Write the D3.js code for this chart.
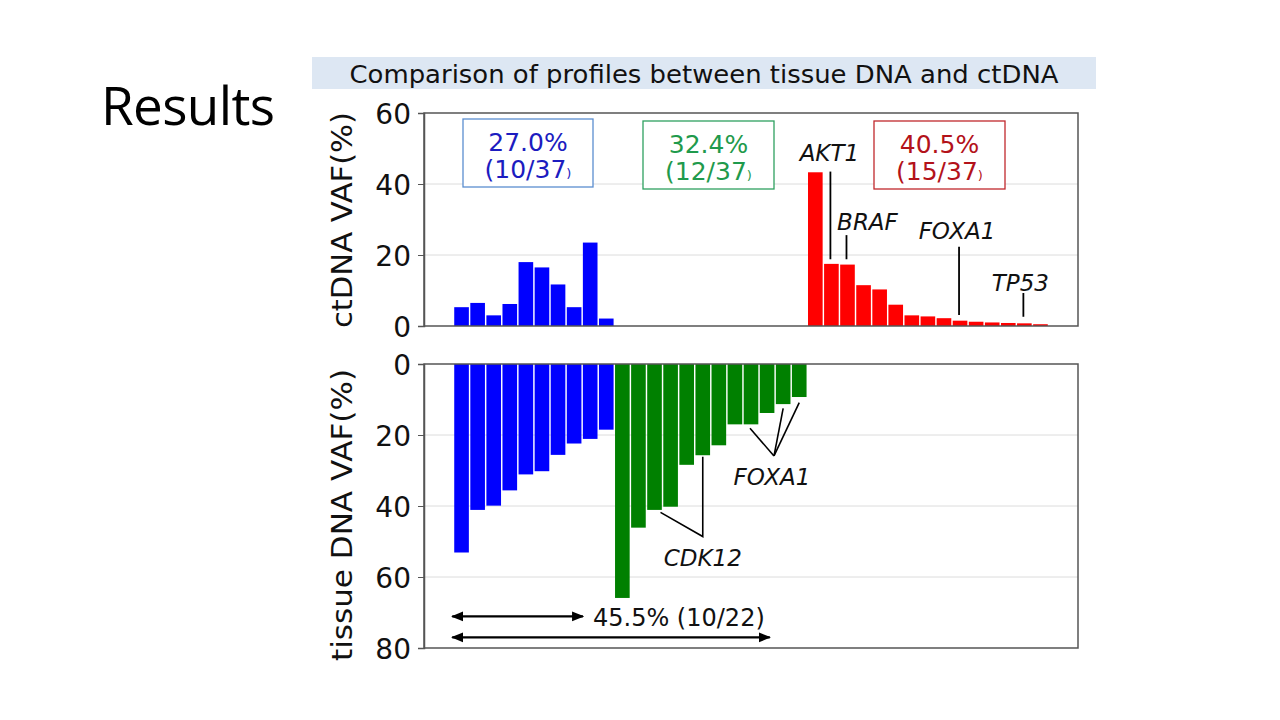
<!DOCTYPE html>
<html><head><meta charset="utf-8">
<script src="https://cdn.jsdelivr.net/npm/d3@7"></script>
<style>body{margin:0;background:#fff;}svg{display:block;font-family:"DejaVu Sans",Verdana,sans-serif;}</style>
</head><body>
<svg id="c" width="1280" height="720"></svg>
<script>
// ---- data ----
const ctdnaVAF = [5.3,6.5,3.0,6.2,18.0,16.5,11.7,5.3,23.5,2.1,
  0,0,0,0,0,0,0,0,0,0,0,0,
  43.3,17.5,17.3,11.5,10.3,6.0,3.0,2.7,2.2,1.5,1.2,1.0,0.85,0.75,0.5];
const tissueVAF = [53.1,41.1,39.9,35.6,31.1,30.2,25.6,22.4,21.1,18.5,
  65.9,46.1,41.1,40.2,28.4,25.7,22.9,17.0,17.0,13.8,11.3,9.3,
  0,0,0,0,0,0,0,0,0,0,0,0,0,0,0];
const groups = ["both","both","both","both","both","both","both","both","both","both",
  "tissue","tissue","tissue","tissue","tissue","tissue","tissue","tissue","tissue","tissue","tissue","tissue",
  "ct","ct","ct","ct","ct","ct","ct","ct","ct","ct","ct","ct","ct","ct","ct"];
const topTicks = [0,20,40,60];
const bottomTicks = [0,20,40,60,80];
const boxLabels = [
  {pct:"27.0%", frac:"(10/37", group:"both"},
  {pct:"32.4%", frac:"(12/37", group:"tissue"},
  {pct:"40.5%", frac:"(15/37", group:"ct"}
];
const topGenes = [
  {gene:"AKT1", bar:23, from:18.8, to:43.5},
  {gene:"BRAF", bar:24, from:18.8, to:25.6},
  {gene:"FOXA1", bar:31, from:3.1, to:22.3},
  {gene:"TP53", bar:35, from:2.6, to:9.3}
];
const concordText = "45.5% (10/22)";

// ---- layout ----
const svg = d3.select("#c");
const L = 424, R = 1078;
const topY0 = 113, topY1 = 326, botY0 = 364, botY1 = 648;
const barColor = {both:"#0000ff", tissue:"#008000", ct:"#ff0000"};

const idx = d3.range(ctdnaVAF.length);
const x = d3.scaleBand().domain(idx).range([L, R]).paddingInner(0.09).paddingOuter(1.88);
const yT = d3.scaleLinear().domain([0,60]).range([topY1, topY0]);
const yB = d3.scaleLinear().domain([0,80]).range([botY0, botY1]);

// "Results"
svg.append("text").attr("x",101).attr("y",125).attr("font-family","'Open Sans','Noto Sans',sans-serif")
  .attr("font-size",53).attr("textLength",174).attr("fill","#000").text("Results");

// title band
svg.append("rect").attr("x",312).attr("y",57).attr("width",784).attr("height",32).attr("fill","#dde7f3");
svg.append("text").attr("x",704).attr("y",82.5).attr("text-anchor","middle").attr("font-size",25)
  .attr("textLength",709).attr("lengthAdjust","spacingAndGlyphs").attr("fill","#111")
  .text("Comparison of profiles between tissue DNA and ctDNA");

// gridlines
svg.append("g").selectAll("line").data(topTicks.filter(t=>t>0&&t<60)).join("line")
  .attr("x1",L).attr("x2",R).attr("y1",d=>yT(d)).attr("y2",d=>yT(d)).attr("stroke","#dcdcdc").attr("stroke-width",1);
svg.append("g").selectAll("line").data(bottomTicks.filter(t=>t>0&&t<80)).join("line")
  .attr("x1",L).attr("x2",R).attr("y1",d=>yB(d)).attr("y2",d=>yB(d)).attr("stroke","#dcdcdc").attr("stroke-width",1);

// bars
svg.append("g").selectAll("rect").data(idx.filter(i=>ctdnaVAF[i]>0)).join("rect")
  .attr("x",i=>x(i)).attr("width",x.bandwidth()).attr("y",i=>yT(ctdnaVAF[i]))
  .attr("height",i=>yT(0)-yT(ctdnaVAF[i])).attr("fill",i=>barColor[groups[i]]);
svg.append("g").selectAll("rect").data(idx.filter(i=>tissueVAF[i]>0)).join("rect")
  .attr("x",i=>x(i)).attr("width",x.bandwidth()).attr("y",yB(0))
  .attr("height",i=>yB(tissueVAF[i])-yB(0)).attr("fill",i=>barColor[groups[i]]);

// frames
[[topY0,topY1],[botY0,botY1]].forEach(([a,b])=>{
  svg.append("rect").attr("x",L).attr("y",a).attr("width",R-L).attr("height",b-a)
    .attr("fill","none").attr("stroke","#555").attr("stroke-width",1.5);
});

// axes
const axT = svg.append("g").attr("transform",`translate(${L},0)`)
  .call(d3.axisLeft(yT).tickValues(topTicks).tickSize(6).tickPadding(7));
const axB = svg.append("g").attr("transform",`translate(${L},0)`)
  .call(d3.axisLeft(yB).tickValues(bottomTicks).tickSize(6).tickPadding(7));
[axT,axB].forEach(a=>{
  a.select(".domain").attr("stroke","#555").attr("stroke-width",1.5);
  a.selectAll(".tick line").attr("stroke","#555");
  a.selectAll(".tick text").attr("font-size",28).attr("fill","#111").attr("font-family","'DejaVu Sans',sans-serif")
    .attr("dy","0.36em");
});

// y labels
svg.append("text").attr("transform","translate(352,220) rotate(-90)").attr("text-anchor","middle")
  .attr("font-size",28).attr("textLength",216).attr("lengthAdjust","spacingAndGlyphs")
  .attr("fill","#111").text("ctDNA VAF(%)");
svg.append("text").attr("transform","translate(352,515) rotate(-90)").attr("text-anchor","middle")
  .attr("font-size",28).attr("textLength",292).attr("lengthAdjust","spacingAndGlyphs")
  .attr("fill","#111").text("tissue DNA VAF(%)");

// summary boxes
const boxStyle = {
  both:{stroke:"#5b8ed0", text:"#1c1cc0", x:463, w:130},
  tissue:{stroke:"#2ea060", text:"#1f9a4c", x:643, w:131},
  ct:{stroke:"#c0282d", text:"#b3121a", x:874, w:131}
};
boxLabels.forEach(b=>{
  const s = boxStyle[b.group];
  const y0 = b.group==="both"?119:121;
  svg.append("rect").attr("x",s.x).attr("y",y0).attr("width",s.w).attr("height",68)
    .attr("fill","#fff").attr("stroke",s.stroke).attr("stroke-width",1.3);
  const cx = s.x + s.w/2;
  svg.append("text").attr("x",cx).attr("y",y0+32).attr("text-anchor","middle").attr("font-size",25)
    .attr("fill",s.text).text(b.pct);
  const t = svg.append("text").attr("x",cx).attr("y",y0+59).attr("text-anchor","middle").attr("font-size",25)
    .attr("fill",s.text);
  t.append("tspan").text(b.frac);
  t.append("tspan").attr("font-size",13).text(")");
});

// top gene annotations
const labelPos = {AKT1:{dx:-1,y:161}, BRAF:{dx:21,y:230}, FOXA1:{dx:-2,y:239}, TP53:{dx:-3,y:291}};
topGenes.forEach(g=>{
  const cx = x(g.bar)+x.bandwidth()/2 - 1;
  svg.append("line").attr("x1",cx).attr("x2",cx).attr("y1",yT(g.from)).attr("y2",yT(g.to))
    .attr("stroke","#000").attr("stroke-width",1.8);
  svg.append("text").attr("x",cx+labelPos[g.gene].dx).attr("y",labelPos[g.gene].y).attr("text-anchor","middle")
    .attr("font-size",23).attr("font-style","italic").attr("fill","#111").text(g.gene);
});

// bottom annotations
const line = d3.line().x(d=>d[0]).y(d=>yB(d[1]));
const cdkX = x(15)+x.bandwidth()/2;
svg.append("path").attr("d",line([[x(12)+x.bandwidth()/2+6,41.8],[cdkX,48.6],[cdkX,26.1]]))
  .attr("fill","none").attr("stroke","#000").attr("stroke-width",1.6);
svg.append("text").attr("x",cdkX).attr("y",566).attr("text-anchor","middle").attr("font-size",23)
  .attr("font-style","italic").attr("fill","#111").text("CDK12");
const apex = [774,25.9];
[[x(18)+x.bandwidth()/2-1,18.1],[x(20)+x.bandwidth()/2,12.5],[x(21)+x.bandwidth()/2,10.9]].forEach(p=>{
  svg.append("path").attr("d",line([p,apex])).attr("fill","none").attr("stroke","#000").attr("stroke-width",1.6);
});
svg.append("text").attr("x",772).attr("y",485).attr("text-anchor","middle").attr("font-size",23)
  .attr("font-style","italic").attr("fill","#111").text("FOXA1");

// double arrows
const defs = svg.append("defs");
defs.append("marker").attr("id","ah").attr("viewBox","0 0 10 10").attr("refX",9).attr("refY",5)
  .attr("markerWidth",5).attr("markerHeight",5).attr("orient","auto-start-reverse")
  .append("path").attr("d","M0,1 L10,5 L0,9 Z").attr("fill","#000");
[[x(0)-2, x(8), 71.1],[x(0)-2, x(19)+10, 77.0]].forEach(([a,b,v])=>{
  svg.append("line").attr("x1",a).attr("x2",b).attr("y1",yB(v)).attr("y2",yB(v))
    .attr("stroke","#000").attr("stroke-width",2.4)
    .attr("marker-start","url(#ah)").attr("marker-end","url(#ah)");
});
svg.append("text").attr("x",593).attr("y",626).attr("font-size",24).attr("fill","#111").text(concordText);
</script>
</body></html>
